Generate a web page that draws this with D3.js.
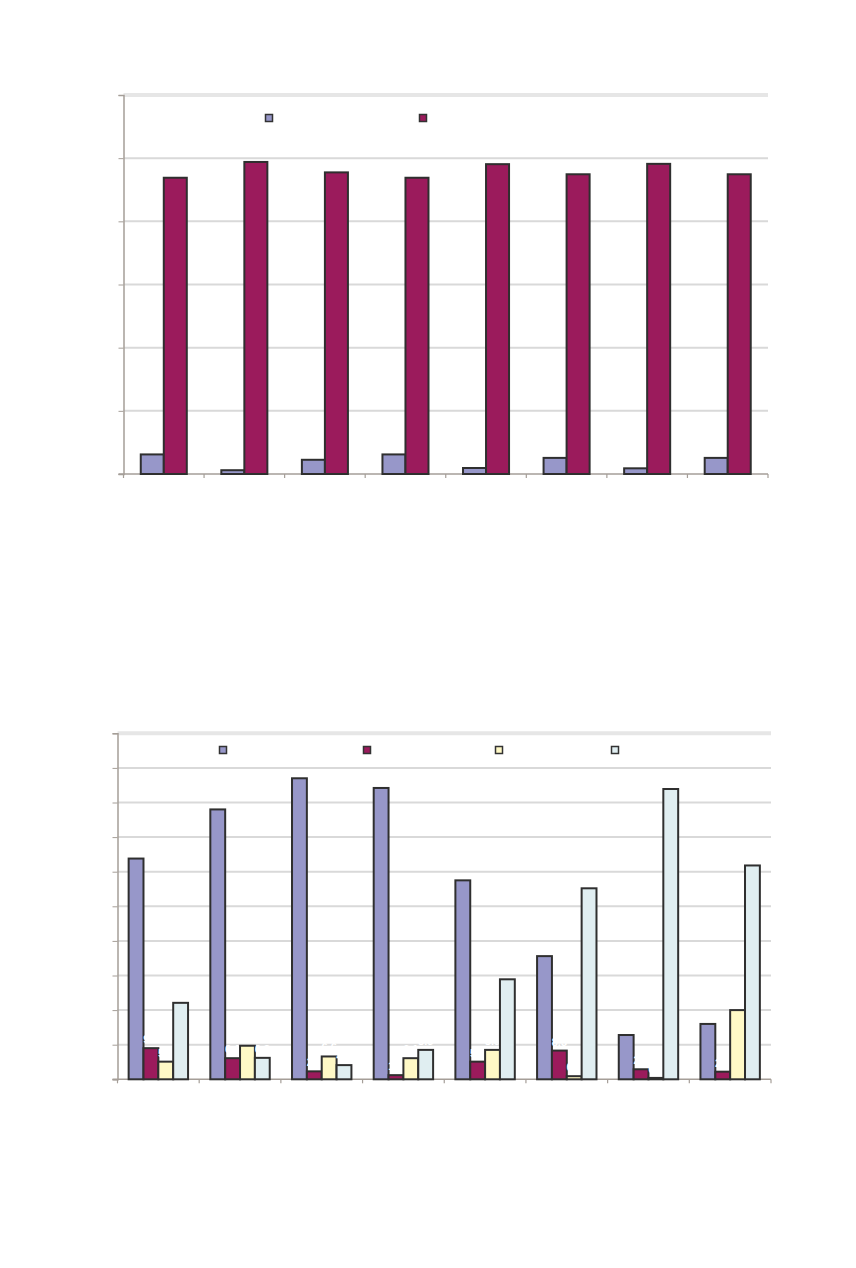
<!DOCTYPE html>
<html>
<head>
<meta charset="utf-8">
<script src="https://cdn.jsdelivr.net/npm/d3@7"></script>
<style>
    body { margin: 0; background: #fff; }
</style>
</head>
<body>
<div id="chart"></div>
<script>
const categories = ['1', '2', '3', '4', '5', '6', '7', '8'];

// top chart, two series (%)
const topSeriesA = [6.2, 1.2, 4.5, 6.2, 1.9, 5.1, 1.8, 5.1];
const topSeriesB = [93.8, 98.8, 95.5, 93.8, 98.1, 94.9, 98.2, 94.9];
const topTicks = [0, 20, 40, 60, 80, 100, 120];

// bottom chart, four series (%)
const botSeriesA = [63.8, 78.0, 87.0, 84.2, 57.5, 35.6, 12.8, 16.0];
const botSeriesB = [9.0, 6.1, 2.3, 1.2, 5.1, 8.3, 2.9, 2.2];
const botSeriesC = [5.1, 9.7, 6.6, 6.1, 8.5, 0.9, 0.4, 20.0];
const botSeriesD = [22.1, 6.2, 4.1, 8.5, 28.9, 55.2, 83.9, 61.8];
const botTicks = [0, 10, 20, 30, 40, 50, 60, 70, 80, 90, 100];

const svg = d3.select('#chart')
    .append('svg')
    .attr('width', 856)
    .attr('height', 1268);

//draws one excel-style clustered column chart
function drawChart(opt) {
    const g = svg.append('g');

    const xScale = d3.scaleBand()
        .domain(categories)
        .range([opt.left, opt.right])
        .padding(0);

    const keys = opt.series.map((s, i) => 's' + i);
    const xInner = d3.scaleBand()
        .domain(keys)
        .range([0, xScale.bandwidth()])
        .paddingInner(0)
        .paddingOuter(0.75);

    const yScale = d3.scaleLinear()
        .domain([0, d3.max(opt.ticks)])
        .range([opt.bottom, opt.top]);

    // gridlines
    g.selectAll('.grid')
        .data(opt.ticks.slice(1))
        .enter()
        .append('line')
        .attr('x1', opt.left)
        .attr('x2', opt.right)
        .attr('y1', d => yScale(d))
        .attr('y2', d => yScale(d))
        .attr('stroke', (d, i) => i === opt.ticks.length - 2 ? '#e6e6e6' : '#d9d9d9')
        .attr('stroke-width', (d, i) => i === opt.ticks.length - 2 ? 4 : 2);

    // y axis
    const yAxis = d3.axisLeft(yScale)
        .tickValues(opt.ticks)
        .tickSize(5)
        .tickPadding(4);
    const ya = g.append('g')
        .attr('transform', `translate(${opt.left}, 0)`)
        .call(yAxis);
    ya.select('.domain').attr('stroke', '#a59e98').attr('stroke-width', 1.5);
    ya.selectAll('.tick line').attr('stroke', '#a59e98');
    ya.selectAll('.tick text')
        .attr('fill', '#fff')
        .style('font', '11px Arial');

    // x axis line with ticks at category boundaries
    g.append('line')
        .attr('x1', opt.left - 5)
        .attr('x2', opt.right)
        .attr('y1', opt.bottom)
        .attr('y2', opt.bottom)
        .attr('stroke', '#a59e98')
        .attr('stroke-width', 1.5);
    const bounds = categories.map(c => xScale(c)).concat([opt.right]);
    g.selectAll('.xtick')
        .data(bounds)
        .enter()
        .append('line')
        .attr('x1', d => d)
        .attr('x2', d => d)
        .attr('y1', opt.bottom)
        .attr('y2', opt.bottom + 4)
        .attr('stroke', '#a59e98')
        .attr('stroke-width', 1.2);

    // bars
    opt.series.forEach((values, si) => {
        g.selectAll('.bar' + si)
            .data(values)
            .enter()
            .append('rect')
            .attr('x', (d, i) => xScale(categories[i]) + xInner(keys[si]))
            .attr('y', d => yScale(d))
            .attr('width', xInner.bandwidth())
            .attr('height', d => opt.bottom - yScale(d))
            .attr('fill', opt.colors[si])
            .attr('stroke', '#2f2f2f')
            .attr('stroke-width', 2);

        if (opt.labels) {
            // only the small bars carry a (white) value label
            g.selectAll('.lab' + si)
                .data(values.map((v, i) => ({ v: v, i: i })).filter(d => d.v < 25))
                .enter()
                .append('text')
                .attr('x', d => xScale(categories[d.i]) + xInner(keys[si]) + xInner.bandwidth() / 2)
                .attr('y', d => yScale(d.v) - 5)
                .attr('text-anchor', 'middle')
                .attr('fill', '#fff')
                .style('font', 'bold 11px Arial')
                .text(d => d.v.toFixed(1));
        }
    });

    // legend markers
    opt.legendX.forEach((lx, si) => {
        g.append('rect')
            .attr('x', lx - 3.5)
            .attr('y', opt.legendY - 3.5)
            .attr('width', 7)
            .attr('height', 7)
            .attr('fill', opt.colors[si])
            .attr('stroke', '#333')
            .attr('stroke-width', 1.5);
    });
}

drawChart({
    left: 123.5, right: 768, top: 95, bottom: 474,
    series: [topSeriesA, topSeriesB],
    colors: ['#9797c9', '#9b1b5c'],
    ticks: topTicks,
    legendX: [269, 423], legendY: 118,
    labels: false
});

drawChart({
    left: 117.5, right: 771, top: 733.3, bottom: 1079.3,
    series: [botSeriesA, botSeriesB, botSeriesC, botSeriesD],
    colors: ['#9797c9', '#9b1b5c', '#fff9c6', '#e0eef1'],
    ticks: botTicks,
    legendX: [223, 367, 499, 615], legendY: 750,
    labels: true
});
</script>
</body>
</html>
